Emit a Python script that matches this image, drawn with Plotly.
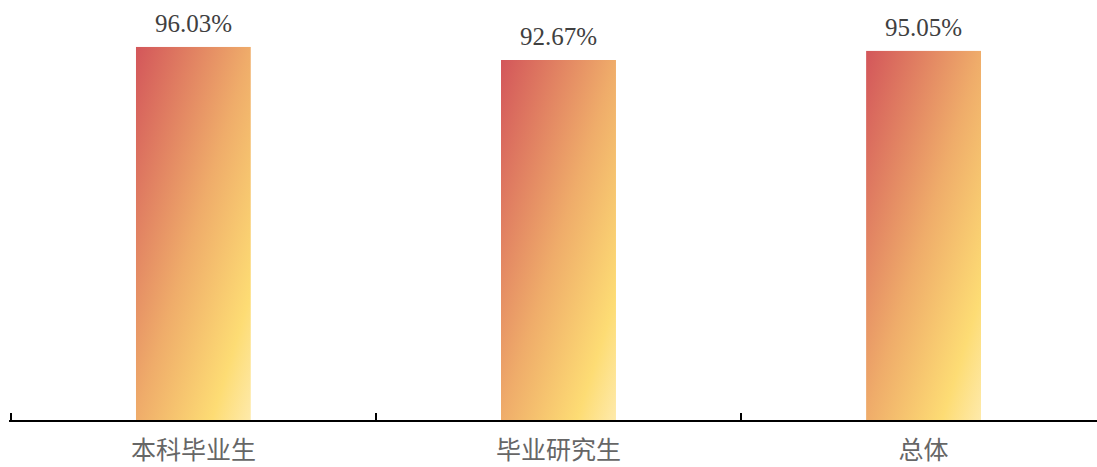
import plotly.graph_objects as go
import urllib.parse

categories = ["本科毕业生", "毕业研究生", "总体"]
values = [96.03, 92.67, 95.05]
value_labels = ["96.03%", "92.67%", "95.05%"]

bar_width = 0.315

svg = (
    '<svg xmlns="http://www.w3.org/2000/svg" width="100" height="100" preserveAspectRatio="none" viewBox="0 0 100 100">'
    '<defs><linearGradient id="g" x1="0" y1="0" x2="1" y2="1">'
    '<stop offset="0" stop-color="#d3565a"/>'
    '<stop offset="0.5" stop-color="#efac6a"/>'
    '<stop offset="0.83" stop-color="#fddc74"/>'
    '<stop offset="1" stop-color="#feeaab"/>'
    '</linearGradient></defs>'
    '<rect x="0" y="0" width="100" height="100" fill="url(#g)"/></svg>'
)
grad_uri = "data:image/svg+xml;charset=utf-8," + urllib.parse.quote(svg)

fig = go.Figure()
fig.add_trace(go.Bar(
    x=categories, y=values, width=bar_width,
    marker=dict(color="rgba(0,0,0,0)", line=dict(width=0)),
    hoverinfo="x+y",
))

images = []
annotations = []
for i, (c, v, t) in enumerate(zip(categories, values, value_labels)):
    images.append(dict(
        source=grad_uri, xref="x", yref="y",
        x=i - bar_width / 2, y=v, sizex=bar_width, sizey=v,
        xanchor="left", yanchor="top", sizing="stretch", layer="below",
    ))
    annotations.append(dict(
        x=c, y=v, xref="x", yref="y", text=t, showarrow=False,
        yanchor="bottom", yshift=8,
        font=dict(family="Liberation Serif, Times New Roman, serif", size=25, color="#404040"),
    ))

fig.update_layout(
    width=1097, height=467,
    margin=dict(l=9, r=0, t=12, b=47),
    plot_bgcolor="white", paper_bgcolor="white",
    showlegend=False,
    images=images,
    annotations=annotations,
    xaxis=dict(
        type="category", range=[-0.505, 2.475], automargin=False,
        showline=True, linecolor="#000000", linewidth=2,
        ticks="inside", tickson="boundaries", ticklen=7, tickwidth=2, tickcolor="#000000",
        showgrid=False, zeroline=False, ticklabelstandoff=7,
        tickfont=dict(family="Noto Sans CJK SC", size=25, color="#666666"),
    ),
    yaxis=dict(
        range=[0, 105], visible=False, showgrid=False, zeroline=False,
    ),
)

fig.write_html(
    "out.html",
    config={"displayModeBar": False},
    post_script="document.body.style.margin='0';document.body.style.overflow='hidden';",
)
